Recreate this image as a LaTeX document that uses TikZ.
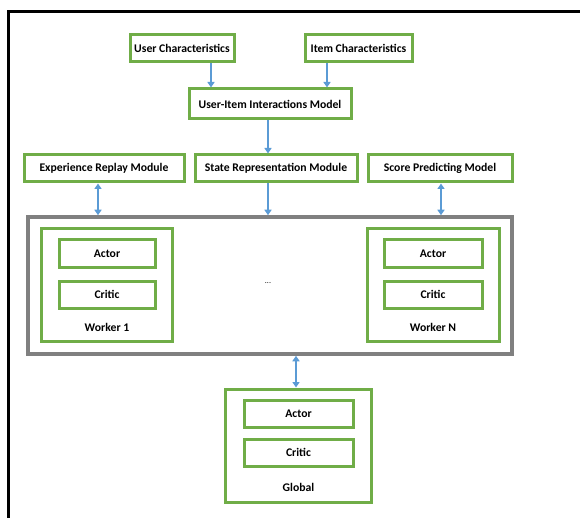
\documentclass[tikz,border=0pt]{standalone}
\usepackage{fontspec}
\setmainfont{Carlito}
\usetikzlibrary{arrows.meta}
\definecolor{boxgreen}{RGB}{112,173,71}
\definecolor{linkblue}{RGB}{91,155,213}
\definecolor{poolgray}{RGB}{128,128,128}
\tikzset{
  box/.style={draw=boxgreen, line width=3pt, inner sep=0pt,
    font=\fontsize{11.7}{13}\selectfont\bfseries},
  tag/.style={inner sep=0pt, font=\fontsize{11.7}{13}\selectfont\bfseries},
  link/.style={draw=linkblue, line width=2.4pt, -{Triangle[width=7pt,length=5.5pt]}},
  twoway/.style={draw=linkblue, line width=2.4pt,
    {Triangle[width=7pt,length=5.5pt]}-{Triangle[width=7pt,length=5.5pt]}}
}
\begin{document}
\begin{tikzpicture}[x=1pt, y=-1pt]
  \useasboundingbox (0,0) rectangle (580,518);
  \draw[line width=3pt] (580,12) -- (8,12) -- (8,518);

  \node[box, minimum width=104pt, minimum height=27pt] (uchar) at (182,48.5) {User Characteristics};
  \node[box, minimum width=107pt, minimum height=27pt] (ichar) at (358.5,48.5) {Item Characteristics};
  \node[box, minimum width=162pt, minimum height=30pt] (uimodel) at (270,104) {User-Item Interactions Model};

  \node[box, minimum width=160pt, minimum height=27pt] (replay) at (104,168.5) {Experience Replay Module};
  \node[box, minimum width=162pt, minimum height=27pt] (staterep) at (276,168.5) {State Representation Module};
  \node[box, minimum width=144pt, minimum height=27pt] (scorer) at (440,168.5) {Score Predicting Model};

  \node[draw=poolgray, line width=3.5pt, minimum width=484pt, minimum height=137pt] (pool) at (270,285.5) {};

  \node[box, minimum width=131pt, minimum height=112pt] (worker1) at (106.5,285) {};
  \node[box, minimum width=96pt, minimum height=28pt] (actor1) at (107,254) {Actor};
  \node[box, minimum width=96pt, minimum height=27pt] (critic1) at (107,294.5) {Critic};
  \node[tag] (w1name) at (107,327) {Worker 1};

  \node[inner sep=0pt, font=\fontsize{8}{9}\selectfont] (dots) at (268,283) {...};

  \node[box, minimum width=132pt, minimum height=112pt] (workerN) at (433,285) {};
  \node[box, minimum width=98pt, minimum height=28pt] (actorN) at (433,254) {Actor};
  \node[box, minimum width=98pt, minimum height=27pt] (criticN) at (433,294.5) {Critic};
  \node[tag] (wNname) at (433,327) {Worker N};

  \node[box, minimum width=146pt, minimum height=113pt] (global) at (298,445.5) {};
  \node[box, minimum width=109pt, minimum height=27pt] (gactor) at (298.5,413.5) {Actor};
  \node[box, minimum width=109pt, minimum height=27pt] (gcritic) at (298.5,452.5) {Critic};
  \node[tag] (gname) at (298.5,487) {Global};

  \draw[link] ([xshift=29pt]uchar.south) -- ([xshift=-59pt]uimodel.north);
  \draw[link] ([xshift=-31.5pt]ichar.south) -- ([xshift=57pt]uimodel.north);
  \draw[link] ([xshift=-2pt]uimodel.south) -- ([xshift=-8pt]staterep.north);
  \draw[twoway] ([xshift=-6pt]replay.south) -- ([xshift=-172pt]pool.north);
  \draw[link] ([xshift=-8pt]staterep.south) -- ([xshift=-2pt]pool.north);
  \draw[twoway] ([xshift=1pt]scorer.south) -- ([xshift=171pt]pool.north);
  \draw[twoway] ([xshift=26pt]pool.south) -- ([xshift=-2pt]global.north);
\end{tikzpicture}
\end{document}
